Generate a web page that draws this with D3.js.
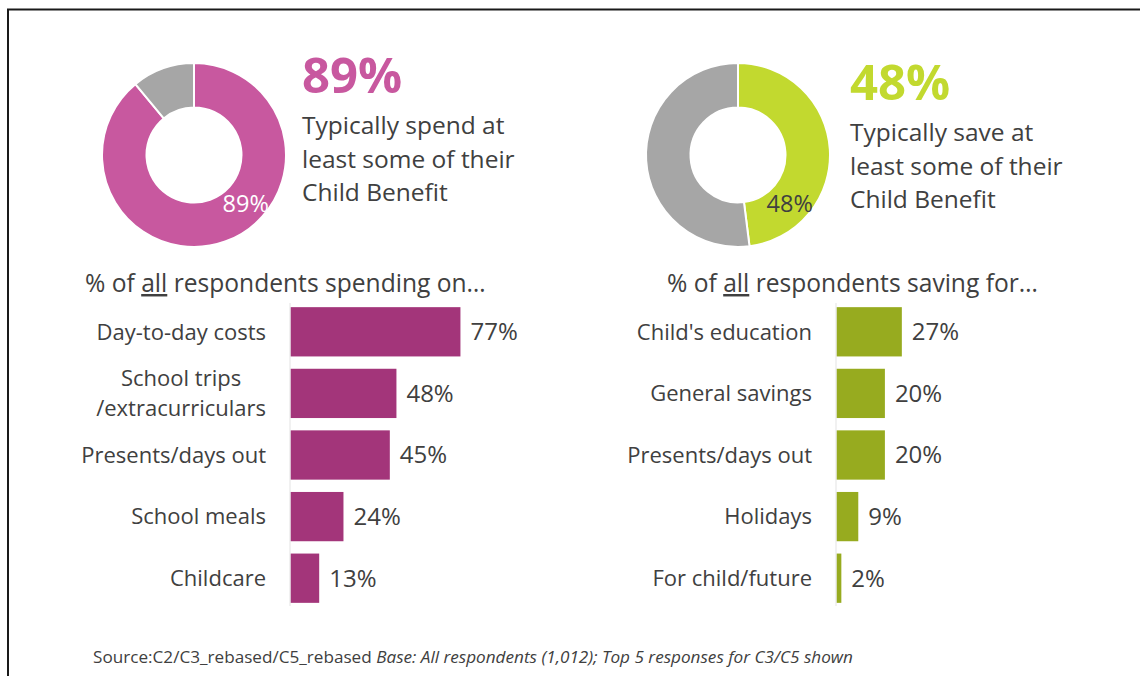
<!DOCTYPE html>
<html>
<head>
<meta charset="utf-8">
<script src="https://cdn.jsdelivr.net/npm/d3@7"></script>
<style>
  html, body { margin: 0; padding: 0; background: #fff; }
  svg { display: block; font-family: "Open Sans", "Noto Sans", sans-serif; }
</style>
</head>
<body>
<svg id="chart" width="1140" height="676"></svg>
<script>
// Headline shares (percent of all respondents)
const spendShare = 89;
const saveShare = 48;

// Top five uses of Child Benefit
const spendCategories = ["Day-to-day costs", "School trips\n/extracurriculars", "Presents/days out", "School meals", "Childcare"];
const spendValues = [77, 48, 45, 24, 13];

const saveCategories = ["Child's education", "General savings", "Presents/days out", "Holidays", "For child/future"];
const saveValues = [27, 20, 20, 9, 2];

const headlineText = {
  spend: ["Typically spend at", "least some of their", "Child Benefit"],
  save: ["Typically save at", "least some of their", "Child Benefit"]
};
const sourceNote = "Source:C2/C3_rebased/C5_rebased ";
const baseNote = "Base: All respondents (1,012); Top 5 responses for C3/C5 shown";

const pct = d => d + "%";
const textColor = "#404040";

const svg = d3.select("#chart");

// Frame
svg.append("rect")
  .attr("x", 8).attr("y", 9.5)
  .attr("width", 1160).attr("height", 700)
  .attr("fill", "none").attr("stroke", "#1a1a1a").attr("stroke-width", 2);

// ---- Donuts ----
function donut(cx, cy, share, color, labelColor) {
  const pie = d3.pie().sort(null).value(d => d.value);
  const slices = pie([{ key: "yes", value: share }, { key: "no", value: 100 - share }]);
  const arc = d3.arc().innerRadius(47.5).outerRadius(92);
  const g = svg.append("g").attr("transform", `translate(${cx},${cy})`);
  g.selectAll("path").data(slices).join("path")
    .attr("d", arc)
    .attr("fill", d => d.data.key === "yes" ? color : "#A6A6A6")
    .attr("stroke", "#fff").attr("stroke-width", 2);
  // value label sits in the lower-right part of the ring
  const labelArc = d3.arc().innerRadius(71).outerRadius(71);
  const a = 0.74 * Math.PI;
  const [lx, ly] = labelArc.centroid({ startAngle: a, endAngle: a });
  g.append("text")
    .attr("x", lx).attr("y", ly).attr("dy", "0.35em")
    .attr("text-anchor", "middle")
    .attr("font-size", 23.5)
    .attr("fill", labelColor)
    .text(pct(share));
}
donut(194, 155, spendShare, "#C8589F", "#ffffff");
donut(738, 155, saveShare, "#C2D92F", textColor);

// ---- Headlines ----
function headline(x, y, share, color, lines) {
  svg.append("text")
    .attr("x", x).attr("y", y)
    .attr("font-size", 49).attr("font-weight", 700)
    .attr("fill", color)
    .text(pct(share));
  lines.forEach((t, i) => {
    svg.append("text")
      .attr("x", x).attr("y", y + 41 + i * 33.5)
      .attr("font-size", 24.5)
      .attr("fill", textColor)
      .text(t);
  });
}
headline(302, 93, spendShare, "#C8589F", headlineText.spend);
headline(850, 100, saveShare, "#C2D92F", headlineText.save);

// ---- Section titles ----
function sectionTitle(x, y, rest) {
  const t = svg.append("text")
    .attr("x", x).attr("y", y)
    .attr("font-size", 24.6)
    .attr("fill", textColor);
  t.append("tspan").text("% of ");
  t.append("tspan").style("text-decoration", "underline").text("all");
  t.append("tspan").text(" " + rest);
}
sectionTitle(85, 292, "respondents spending on\u2026");
sectionTitle(667, 292, "respondents saving for\u2026");

// ---- Bar charts ----
function barChart(categories, values, axisX, pxPerHundred, color, labelRight) {
  const data = categories.map((c, i) => ({ c, v: values[i] }));
  const y = d3.scaleBand().domain(categories).range([301, 609]).paddingInner(0.2).paddingOuter(0.1);
  const x = d3.scaleLinear().domain([0, 100]).range([axisX, axisX + pxPerHundred]);

  const g = svg.append("g");
  g.selectAll("rect").data(data).join("rect")
    .attr("x", x(0) + 1)
    .attr("y", d => y(d.c))
    .attr("width", d => x(d.v) - x(0))
    .attr("height", y.bandwidth())
    .attr("fill", color);

  // category axis line
  g.append("line")
    .attr("x1", axisX + 0.5).attr("x2", axisX + 0.5)
    .attr("y1", 303).attr("y2", 606)
    .attr("stroke", "#E3E3E3").attr("stroke-width", 1);

  // value labels
  g.selectAll("text.val").data(data).join("text")
    .attr("class", "val")
    .attr("x", d => x(d.v) + 11)
    .attr("y", d => y(d.c) + y.bandwidth() / 2)
    .attr("dy", "0.35em")
    .attr("font-size", 24)
    .attr("fill", textColor)
    .text(d => pct(d.v));

  // category labels (multi-line labels are centred on each other, block right-aligned)
  data.forEach(d => {
    const lines = d.c.split("\n");
    const cy = y(d.c) + y.bandwidth() / 2;
    const lh = 30;
    const t = g.append("text")
      .attr("font-size", 22)
      .attr("fill", textColor);
    const spans = lines.map((ln, i) => t.append("tspan")
      .attr("y", cy + (i - (lines.length - 1) / 2) * lh)
      .attr("dy", "0.35em")
      .text(ln));
    if (lines.length === 1) {
      t.attr("text-anchor", "end");
      spans[0].attr("x", labelRight);
    } else {
      const w = d3.max(spans, s => s.node().getComputedTextLength());
      t.attr("text-anchor", "middle");
      spans.forEach(s => s.attr("x", labelRight - w / 2));
    }
  });
}
barChart(spendCategories, spendValues, 289.5, 220.7, "#A3357A", 266);
barChart(saveCategories, saveValues, 835.5, 242, "#97AB1F", 812);

// ---- Source note ----
const src = svg.append("text")
  .attr("x", 93).attr("y", 663)
  .attr("font-size", 15.5)
  .attr("fill", textColor)
  .attr("textLength", 760)
  .attr("lengthAdjust", "spacingAndGlyphs");
src.append("tspan").text(sourceNote);
src.append("tspan").attr("font-style", "italic").text(baseNote);
</script>
</body>
</html>
